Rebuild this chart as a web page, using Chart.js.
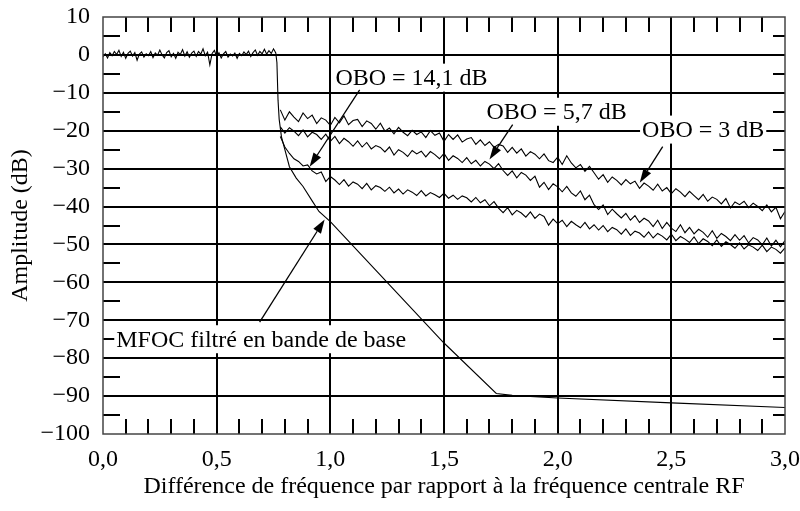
<!DOCTYPE html>
<html>
<head>
<meta charset="utf-8">
<script src="https://cdn.jsdelivr.net/npm/chart.js@4/dist/chart.umd.min.js"></script>
<style>
html,body{margin:0;padding:0;background:#fff;}
#boite{width:800px;height:511px;}
</style>
</head>
<body>
<div id="boite"><canvas id="graphe" width="800" height="511"></canvas></div>
<script>
// bande de base : partie plate puis chute du spectre MFOC filtre
const freqMfoc = [0.00,0.01,0.02,0.03,0.04,0.05,0.06,0.07,0.08,0.09,0.10,0.11,0.12,0.13,0.14,0.15,0.16,0.17,0.18,0.19,
  0.20,0.21,0.22,0.23,0.24,0.25,0.26,0.27,0.28,0.29,0.30,0.31,0.32,0.33,0.34,0.35,0.36,0.37,0.38,0.39,
  0.40,0.41,0.42,0.43,0.44,0.45,0.46,0.47,0.48,0.49,0.50,0.51,0.52,0.53,0.54,0.55,0.56,0.57,0.58,0.59,
  0.60,0.61,0.62,0.63,0.64,0.65,0.66,0.67,0.68,0.69,0.70,0.71,0.72,0.73,0.74,0.75,0.76,
  0.765,0.770,0.775,0.785,0.80,0.82,0.85,0.88,0.92,0.95,1.00,1.25,1.50,1.73,1.80,2.00,2.50,3.00];
const ampMfoc = [-0.5,0.3,-0.8,0.6,-0.2,0.9,0.1,1.2,-0.4,0.7,-0.9,0.4,1.0,-0.3,0.6,-1.4,0.2,0.8,-0.6,0.3,
  -0.2,0.9,-0.7,0.5,-0.1,1.3,0.0,-0.8,0.6,1.1,-0.5,0.4,-0.9,0.7,0.1,1.4,-0.3,0.8,-0.6,0.5,
  1.0,-0.4,0.9,0.2,1.6,-0.2,0.7,-2.6,0.4,1.2,-0.5,0.6,-0.8,0.3,0.9,-0.6,0.2,-0.3,0.5,-0.9,
  0.4,-0.2,0.8,0.1,1.0,-0.4,0.6,1.3,-0.1,0.9,0.3,1.5,0.2,1.1,0.4,1.6,0.5,
  -2,-12,-17,-21.6,-25,-29.5,-32.5,-34.7,-38.5,-41.3,-44,-60,-76,-89.3,-89.8,-90.5,-91.8,-93];

// courbes apres amplification (OBO)
const freqObo = [0.78,0.80,0.82,0.84,0.86,0.88,0.90,0.92,0.94,0.96,0.98,1.00,1.02,1.04,1.06,1.08,1.10,1.12,1.14,1.16,
  1.18,1.20,1.22,1.24,1.26,1.28,1.30,1.32,1.34,1.36,1.38,1.40,1.42,1.44,1.46,1.48,1.50,1.52,1.54,1.56,
  1.58,1.60,1.62,1.64,1.66,1.68,1.70,1.72,1.74,1.76,1.78,1.80,1.82,1.84,1.86,1.88,1.90,1.92,1.94,1.96,
  1.98,2.00,2.02,2.04,2.06,2.08,2.10,2.12,2.14,2.16,2.18,2.20,2.22,2.24,2.26,2.28,2.30,2.32,2.34,2.36,
  2.38,2.40,2.42,2.44,2.46,2.48,2.50,2.52,2.54,2.56,2.58,2.60,2.62,2.64,2.66,2.68,2.70,2.72,2.74,2.76,
  2.78,2.80,2.82,2.84,2.86,2.88,2.90,2.92,2.94,2.96,2.98,3.00];
const obo3 = [-14.5,-17.2,-15.0,-16.4,-17.6,-15.3,-16.8,-15.9,-18.1,-16.6,-17.2,-18.6,-16.5,-17.9,-16.1,-18.4,-17.3,-17.0,-18.9,-17.4,
  -18.1,-19.6,-18.0,-20.1,-19.3,-20.8,-19.1,-20.4,-21.3,-19.9,-21.0,-20.3,-21.8,-20.0,-21.2,-20.6,-22.8,-21.0,-22.3,-21.1,
  -23.0,-22.2,-21.8,-23.6,-22.4,-23.9,-22.9,-24.4,-23.6,-24.0,-25.7,-24.4,-25.9,-24.8,-26.7,-25.5,-26.2,-27.4,-26.1,-27.9,
  -28.4,-27.0,-28.9,-26.6,-28.5,-29.8,-28.9,-30.7,-29.4,-31.1,-32.8,-31.6,-33.6,-32.2,-33.1,-34.3,-32.9,-34.0,-33.3,-35.2,
  -33.8,-34.6,-35.7,-34.1,-35.9,-35.0,-36.6,-35.3,-36.2,-37.4,-36.0,-37.1,-38.2,-36.8,-38.6,-37.5,-38.1,-39.3,-37.9,-40.4,
  -38.8,-39.5,-38.6,-40.3,-39.1,-40.0,-41.1,-39.6,-41.4,-40.2,-43.2,-41.3];
const obo57 = [-19.0,-20.6,-19.2,-20.1,-21.3,-19.8,-21.6,-20.4,-21.0,-22.3,-20.9,-22.8,-21.5,-23.4,-22.0,-22.9,-24.1,-22.7,-24.3,-23.1,
  -24.8,-23.9,-24.4,-25.6,-24.3,-26.4,-25.0,-25.7,-26.8,-25.2,-26.1,-25.4,-26.9,-25.5,-26.3,-27.4,-26.0,-27.8,-26.6,-27.3,
  -28.4,-27.1,-28.7,-27.8,-29.3,-28.1,-28.8,-30.0,-28.7,-30.5,-31.8,-30.6,-32.4,-31.0,-31.7,-33.1,-32.0,-34.9,-33.6,-35.5,
  -34.0,-34.8,-36.1,-34.7,-36.4,-37.3,-35.9,-38.2,-37.0,-39.5,-40.8,-39.6,-42.1,-40.7,-41.9,-43.0,-41.8,-43.6,-42.4,-44.2,
  -43.1,-43.8,-45.3,-43.6,-45.8,-44.2,-45.7,-46.6,-44.8,-46.9,-45.5,-47.2,-46.0,-46.8,-48.1,-46.4,-48.4,-47.1,-47.9,-49.0,
  -47.4,-48.9,-47.7,-49.6,-48.2,-48.8,-50.1,-48.3,-50.4,-48.9,-50.6,-49.0];
const obo141 = [-21.5,-24.3,-26.0,-27.4,-28.1,-29.3,-29.0,-30.6,-31.4,-30.9,-33.4,-32.1,-33.0,-34.2,-32.9,-34.6,-33.5,-34.1,-35.3,-33.9,
  -35.6,-34.5,-35.0,-36.0,-34.9,-36.4,-35.4,-36.7,-35.6,-36.2,-37.1,-35.8,-37.2,-36.3,-36.9,-37.6,-36.5,-37.8,-37.0,-38.1,
  -37.2,-37.7,-38.8,-37.6,-39.0,-38.2,-39.8,-38.7,-40.4,-41.6,-40.3,-42.2,-41.0,-41.7,-42.8,-41.4,-43.1,-42.0,-42.6,-44.9,
  -43.3,-44.5,-43.6,-45.3,-43.9,-44.8,-45.6,-44.2,-45.9,-44.8,-46.2,-45.0,-46.6,-45.5,-46.1,-47.3,-45.9,-47.6,-46.5,-47.0,
  -48.1,-46.7,-48.3,-47.1,-47.8,-48.8,-47.3,-49.0,-47.9,-48.6,-49.5,-48.0,-49.8,-48.5,-49.2,-50.3,-48.8,-50.5,-49.3,-50.0,
  -51.0,-49.6,-51.2,-50.1,-50.7,-51.6,-50.2,-51.9,-50.7,-51.3,-52.3,-50.9];

// graduations secondaires
const tiretsX = [0.1,0.2,0.3,0.4,0.6,0.7,0.8,0.9,1.1,1.2,1.3,1.4,1.6,1.7,1.8,1.9,2.1,2.2,2.3,2.4,2.6,2.7,2.8,2.9];
const tiretsY = [5,-5,-15,-25,-35,-45,-55,-65,-75,-85,-95];

// textes et fleches (coordonnees dans le repere du graphe)
const etiquettes = [
  {texte:"OBO = 14,1 dB", x:1.357, y:-6.0},
  {texte:"OBO = 5,7 dB", x:1.995, y:-15.0},
  {texte:"OBO = 3 dB", x:2.64, y:-19.7},
  {texte:"MFOC filtré en bande de base", x:0.696, y:-75.0}
];
const fleches = [
  {de:[1.129,-9.2], a:[0.909,-29.5]},
  {de:[1.802,-18.4], a:[1.700,-27.6]},
  {de:[2.462,-24.2], a:[2.361,-33.7]},
  {de:[0.689,-70.5], a:[0.975,-43.4]}
];

const police = '"Liberation Serif", "Times New Roman", serif';

function paires(xs, ys){
  return xs.map((v,i)=>({x:v, y:ys[i]}));
}

function serie(nom, xs, ys){
  return {label:nom, data:paires(xs,ys), borderColor:'#000', borderWidth:1.1,
    pointRadius:0, fill:false, tension:0};
}

const decor = {
  id:'decor',
  afterDatasetsDraw(chart){
    const {ctx, chartArea:a, scales:{x, y}} = chart;
    ctx.save();
    ctx.strokeStyle = '#000';
    ctx.lineWidth = 2;
    ctx.beginPath();
    tiretsX.forEach(v=>{
      let px = Math.round(x.getPixelForValue(v));
      ctx.moveTo(px, a.bottom); ctx.lineTo(px, a.bottom-15);
      ctx.moveTo(px, a.top); ctx.lineTo(px, a.top+15);
    });
    tiretsY.forEach(v=>{
      let py = Math.round(y.getPixelForValue(v));
      ctx.moveTo(a.left, py); ctx.lineTo(a.left+17, py);
      ctx.moveTo(a.right, py); ctx.lineTo(a.right-12, py);
    });
    ctx.stroke();

    ctx.strokeStyle = '#444';
    ctx.lineWidth = 1.5;
    ctx.strokeRect(a.left, a.top, a.right-a.left, a.bottom-a.top);

    ctx.font = '24px ' + police;
    ctx.textAlign = 'center';
    ctx.textBaseline = 'middle';
    etiquettes.forEach(e=>{
      let px = x.getPixelForValue(e.x), py = y.getPixelForValue(e.y);
      let w = ctx.measureText(e.texte).width;
      ctx.fillStyle = '#fff';
      ctx.fillRect(px-w/2-2, py-14, w+4, 28);
      ctx.fillStyle = '#000';
      ctx.fillText(e.texte, px, py+1);
    });

    ctx.strokeStyle = '#000';
    ctx.fillStyle = '#000';
    ctx.lineWidth = 1.3;
    fleches.forEach(f=>{
      let x0 = x.getPixelForValue(f.de[0]), y0 = y.getPixelForValue(f.de[1]);
      let x1 = x.getPixelForValue(f.a[0]), y1 = y.getPixelForValue(f.a[1]);
      let ang = Math.atan2(y1-y0, x1-x0);
      let lg = 14, lar = 4.5;
      ctx.beginPath();
      ctx.moveTo(x0, y0);
      ctx.lineTo(x1-Math.cos(ang)*lg, y1-Math.sin(ang)*lg);
      ctx.stroke();
      ctx.beginPath();
      ctx.moveTo(x1, y1);
      ctx.lineTo(x1-Math.cos(ang)*lg-Math.sin(ang)*lar, y1-Math.sin(ang)*lg+Math.cos(ang)*lar);
      ctx.lineTo(x1-Math.cos(ang)*lg+Math.sin(ang)*lar, y1-Math.sin(ang)*lg-Math.cos(ang)*lar);
      ctx.closePath();
      ctx.fill();
    });
    ctx.restore();
  }
};

function bordX(c){ return (c.tick.value<=0 || c.tick.value>=3) ? 'rgba(0,0,0,0)' : '#000'; }
function bordY(c){ return (c.tick.value<=-100 || c.tick.value>=10) ? 'rgba(0,0,0,0)' : '#000'; }

new Chart(document.getElementById('graphe'), {
  type:'line',
  data:{
    datasets:[
      serie('MFOC', freqMfoc, ampMfoc),
      serie('OBO 3', freqObo, obo3),
      serie('OBO 5,7', freqObo, obo57),
      serie('OBO 14,1', freqObo, obo141)
    ]
  },
  options:{
    responsive:false,
    animation:false,
    layout:{padding:{top:17, right:15, left:0, bottom:0}},
    plugins:{legend:{display:false}, tooltip:{enabled:false}},
    scales:{
      x:{
        type:'linear', min:0, max:3,
        afterFit(s){ s.height = 77; s.paddingLeft = 0; s.paddingRight = 0; },
        ticks:{stepSize:0.5, color:'#000', padding:11, maxRotation:0,
          font:{family:police, size:24},
          callback:v=>v.toFixed(1).replace('.', ',')},
        grid:{color:bordX, lineWidth:2, drawTicks:false},
        border:{display:false},
        title:{display:true, text:'Différence de fréquence par rapport à la fréquence centrale RF',
          color:'#000', font:{family:police, size:24}, padding:{top:0, bottom:10}}
      },
      y:{
        type:'linear', min:-100, max:10,
        afterFit(s){ s.width = 103; s.paddingTop = 0; s.paddingBottom = 0; },
        ticks:{stepSize:10, color:'#000', padding:13,
          font:{family:police, size:24},
          callback:v=>v<0 ? '\u2212'+Math.abs(v) : String(v)},
        grid:{color:bordY, lineWidth:2, drawTicks:false},
        border:{display:false},
        title:{display:true, text:'Amplitude (dB)', color:'#000',
          font:{family:police, size:24}, padding:{top:6, bottom:0}}
      }
    }
  },
  plugins:[decor]
});
</script>
</body>
</html>
